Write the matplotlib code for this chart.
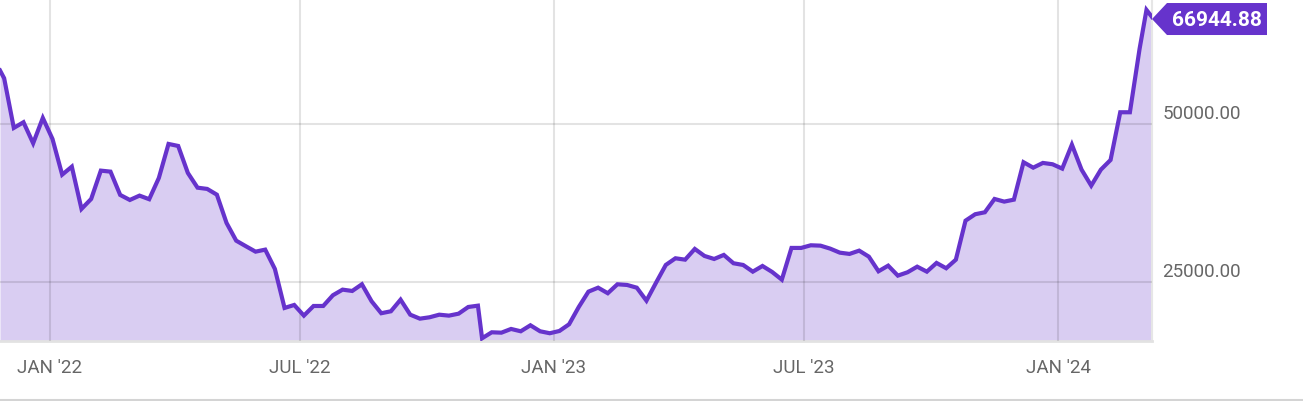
import matplotlib
matplotlib.use("Agg")
import matplotlib.pyplot as plt
from matplotlib.lines import Line2D
from matplotlib.patches import Polygon
import numpy as np
import pandas as pd

plt.rcParams['font.family'] = ['Roboto', 'DejaVu Sans']

# dates: one partial start point, weekly Mondays, weekly Thursdays, two end points
dates = (list(pd.to_datetime(['2021-11-26']))
         + list(pd.date_range('2021-11-29', periods=50, freq='7D'))
         + list(pd.date_range('2022-11-10', periods=69, freq='7D'))
         + list(pd.to_datetime(['2024-03-05', '2024-03-09'])))

prices = [
    58480,
    # Nov 2021 - Nov 2022 (Mondays)
    57240, 49370, 50270, 46940, 50950, 47620, 41960, 43230, 36530, 38110,
    42600, 42440, 38750, 37950, 38640, 38070, 41440, 46830, 46510, 42230,
    39900, 39700, 38790, 34310, 31500, 30620, 29760, 30080, 27020, 20840,
    21310, 19620, 21150, 21150, 22850, 23740, 23530, 24590, 21900, 20000,
    20310, 22150, 19770, 19140, 19360, 19770, 19620, 19930, 20990, 21200,
    # Nov 2022 - Feb 2024 (Thursdays)
    16030, 16980, 16920, 17510, 17140, 18090, 17140, 16830, 17190, 18250,
    20990, 23420, 24050, 23170, 24590, 24480, 24050, 21990, 24860, 27650,
    28710, 28490, 30190, 29080, 28600, 29240, 27920, 27650, 26590, 27490,
    26540, 25320, 30350, 30350, 30770, 30710, 30240, 29600, 29400, 29920,
    28970, 26650, 27540, 25960, 26490, 27380, 26590, 27970, 27130, 28490,
    34670, 35690, 36000, 38110, 37690, 38000, 43930, 43070, 43820, 43610,
    42920, 46720, 42760, 40220, 42760, 44290, 51850, 51850, 61890,
    # Mar 2024
    68070, 66944.88,
]

tick_dates = pd.to_datetime(['2022-01-01', '2022-07-01', '2023-01-01',
                             '2023-07-01', '2024-01-01'])
tick_labels = ["JAN '22", "JUL '22", "JAN '23", "JUL '23", "JAN '24"]
y_ticks = [25000, 50000]
y_labels = ['25000.00', '50000.00']

LINE = '#6633cc'
FILL = '#d9cdf2'
TEXT = '#666666'

W, H = 1303, 402
fig = plt.figure(figsize=(W / 100, H / 100), dpi=100)
ax = fig.add_axes([0, 60 / H, 1152 / W, 342 / H])

ax.fill_between(dates, prices, 15600, color=FILL, lw=0, zorder=1)
ax.plot(dates, prices, color=LINE, lw=3, zorder=3, solid_joinstyle='miter')

ax.set_xlim(dates[0], dates[-1])
ax.set_ylim(15600, 69800)

ax.set_xticks(tick_dates)
ax.set_xticklabels(tick_labels)
ax.set_yticks(y_ticks)
ax.set_yticklabels([])
ax.tick_params(axis='x', length=0, pad=12, labelsize=13.5, labelcolor=TEXT)
ax.tick_params(axis='y', length=0)
ax.set_axisbelow(False)
ax.grid(True, color='black', alpha=0.11, lw=1.5)

for s in ['top', 'left']:
    ax.spines[s].set_visible(False)
ax.spines['bottom'].set_color('#e2e2e2')
ax.spines['bottom'].set_linewidth(2)
ax.spines['right'].set_color('#e6e6e6')
ax.spines['right'].set_linewidth(1.5)

for v, lab in zip(y_ticks, y_labels):
    ax.annotate(lab, xy=(1, v), xycoords=('axes fraction', 'data'),
                xytext=(7.5, 1.5), textcoords='offset points',
                ha='left', va='bottom', fontsize=13.5, color=TEXT,
                annotation_clip=False)

# last value badge with arrow pointing at the last point
fig.canvas.draw()
tx, ty = ax.transData.transform((matplotlib.dates.date2num(dates[-1]), prices[-1]))
ty = ty - 2
pts = [(tx, ty), (tx + 15, ty + 16), (tx + 115, ty + 16),
       (tx + 115, ty - 16), (tx + 15, ty - 16)]
fpts = fig.transFigure.inverted().transform(pts)
fig.add_artist(Polygon(fpts, closed=True, facecolor=LINE, edgecolor='none',
                       transform=fig.transFigure))
cx, cy = fig.transFigure.inverted().transform((tx + 65, ty))
fig.text(cx, cy, f'{prices[-1]:.2f}', color='white', fontsize=15,
         fontweight='bold', ha='center', va='center')

fig.add_artist(Line2D([0, 1], [1.5 / H, 1.5 / H], color='#d4d4d4', lw=1.5,
                      transform=fig.transFigure))

fig.savefig('out.png', dpi=100)
